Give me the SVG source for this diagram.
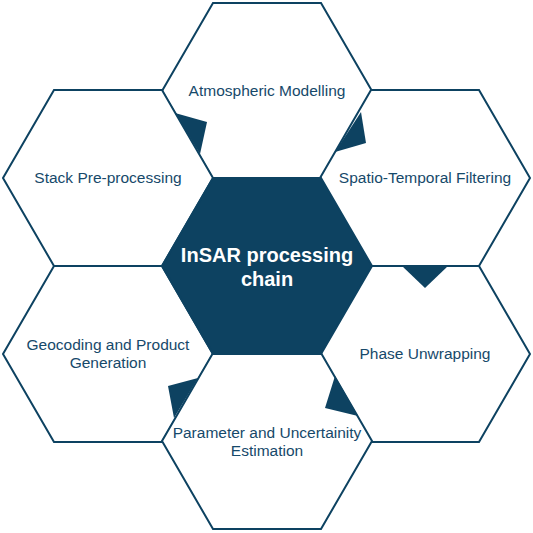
<svg xmlns="http://www.w3.org/2000/svg" width="533" height="533" viewBox="0 0 533 533">
<style>
.hex{fill:#ffffff;stroke:#0d4261;stroke-width:2;stroke-linejoin:miter}
.core{fill:#0d4261;stroke:#0d4261;stroke-width:2}
.lbl{font-family:"Liberation Sans",Arial,sans-serif;font-size:15.5px;fill:#16496a;text-anchor:middle}
.title{font-family:"Liberation Sans",Arial,sans-serif;font-size:20px;font-weight:bold;fill:#ffffff;text-anchor:middle}
.wedge{fill:#0d4261;stroke:none}
</style>
<defs>
<polygon id="hx" points="-105,0 -54,-88 54,-88 105,0 54,88 -54,88"/>
</defs>
<rect width="533" height="533" fill="#ffffff"/>
<g id="atmospheric">
<use href="#hx" class="hex" transform="translate(267,91)"/>
<text class="lbl" x="267" y="96">Atmospheric Modelling</text>
</g>
<g id="stack">
<use href="#hx" class="hex" transform="translate(108,178)"/>
<text class="lbl" x="108" y="183">Stack Pre-processing</text>
</g>
<g id="spatio">
<use href="#hx" class="hex" transform="translate(425,178)"/>
<text class="lbl" x="425" y="183">Spatio-Temporal Filtering</text>
</g>
<g id="geocoding">
<use href="#hx" class="hex" transform="translate(108,354)"/>
<text class="lbl" x="108" y="350">Geocoding and Product</text>
<text class="lbl" x="108" y="368">Generation</text>
</g>
<g id="phase">
<use href="#hx" class="hex" transform="translate(425,354)"/>
<text class="lbl" x="425" y="359">Phase Unwrapping</text>
</g>
<g id="parameter">
<use href="#hx" class="hex" transform="translate(267,441)"/>
<text class="lbl" x="267" y="438">Parameter and Uncertainity</text>
<text class="lbl" x="267" y="456">Estimation</text>
</g>
<g id="core">
<use href="#hx" class="core" transform="translate(267,266)"/>
<text class="title" x="267" y="262">InSAR processing</text>
<text class="title" x="267" y="286">chain</text>
</g>
<g id="connectors">
<polygon class="wedge" points="175,113 207,122 200,154"/>
<polygon class="wedge" points="361,112 366,143 335,152"/>
<polygon class="wedge" points="402,266 448,266 425,288"/>
<polygon class="wedge" points="335,376 325,408 358,416"/>
<polygon class="wedge" points="168,386 198,378 174,418"/>
</g>
</svg>
